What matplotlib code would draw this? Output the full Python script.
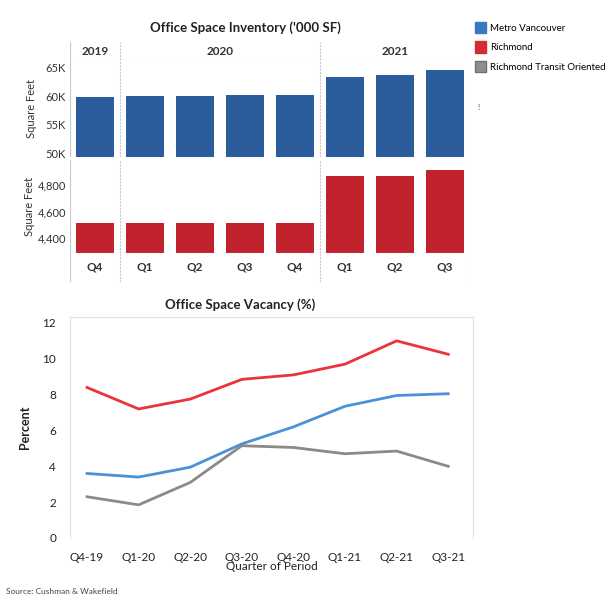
import numpy as np
import matplotlib.pyplot as plt
from matplotlib.patches import Patch

plt.rcParams['font.family'] = ['Lato', 'DejaVu Sans']

# Data
quarters = ["Q4", "Q1", "Q2", "Q3", "Q4", "Q1", "Q2", "Q3"]
years = ["2019", "2020", "2021"]
year_span = [(0, 0), (1, 4), (5, 7)]
metro_inventory = [59.8, 60.0, 60.1, 60.3, 60.3, 63.4, 63.7, 64.6]  # '000 SF, in K
richmond_inventory = [4510, 4510, 4510, 4510, 4510, 4870, 4870, 4915]

period_labels = ["Q4-19", "Q1-20", "Q2-20", "Q3-20", "Q4-20", "Q1-21", "Q2-21", "Q3-21"]
vac_metro = [3.6, 3.4, 3.95, 5.25, 6.2, 7.35, 7.95, 8.05]
vac_richmond = [8.4, 7.2, 7.75, 8.85, 9.1, 9.7, 11.0, 10.25]
vac_transit = [2.3, 1.85, 3.1, 5.15, 5.05, 4.7, 4.85, 4.0]

bar_blue = "#2b5d9c"
bar_red = "#c1232d"
line_blue = "#4a92d8"
line_red = "#e8343a"
line_gray = "#8a8a8a"
grid_col = "#c8c8c8"

W, H = 608, 603
fig = plt.figure(figsize=(W / 100, H / 100), dpi=100)


def px_axes(x0, y0, x1, y1):
    return fig.add_axes([x0 / W, 1 - y1 / H, (x1 - x0) / W, (y1 - y0) / H])


x = np.arange(len(quarters))
seps = [0.5, 4.5]

ax_head = px_axes(70, 42, 470, 60)
ax_top = px_axes(70, 60, 470, 157)
ax_bot = px_axes(70, 160, 470, 253)
ax_tick = px_axes(70, 253, 470, 282)

for a in (ax_head, ax_top, ax_bot, ax_tick):
    a.set_xlim(-0.5, 7.5)
    for s in a.spines.values():
        s.set_visible(False)
    a.tick_params(length=0)
    a.set_xticks([])
    for sx in seps:
        a.axvline(sx, color=grid_col, lw=0.8, ls=(0, (2, 1)))
    a.axvline(7.5, color=grid_col, lw=0.8, ls=(0, (2, 1)))
    a.axvline(-0.5, color=grid_col, lw=0.8)

ax_head.set_ylim(0, 1)
ax_head.set_yticks([])
for yr, (a0, a1) in zip(years, year_span):
    ax_head.text((a0 + a1) / 2, 0.45, yr, ha="center", va="center", fontsize=8.5, fontweight="bold", color="#333333")
ax_head.axhline(0, color=grid_col, lw=0.8, ls=(0, (2, 1)))

ax_top.bar(x, np.array(metro_inventory), width=0.75, color=bar_blue, bottom=0)
ax_top.set_ylim(49.3, 66.4)
ax_top.set_yticks([50, 55, 60, 65], ["50K", "55K", "60K", "65K"])
ax_top.set_ylabel("Square Feet", fontsize=8, color="#333333", labelpad=6)

ax_bot.bar(x, richmond_inventory, width=0.75, color=bar_red)
ax_bot.set_ylim(4285, 4990)
ax_bot.set_yticks([4400, 4600, 4800], ["4,400", "4,600", "4,800"])
ax_bot.set_ylabel("Square Feet", fontsize=8, color="#333333", labelpad=2)
ax_bot.axhline(4285, color=grid_col, lw=0.8)

for a in (ax_top, ax_bot):
    a.tick_params(axis="y", labelsize=8, labelcolor="#333333", pad=3)

ax_tick.set_ylim(0, 1)
ax_tick.set_yticks([])
for xi, q in zip(x, quarters):
    ax_tick.text(xi, 0.5, q, ha="center", va="center", fontsize=8.5, fontweight="bold", color="#333333")

fig.text(245 / W, 1 - 28 / H, "Office Space Inventory ('000 SF)", ha="center", va="center",
         fontsize=9.5, fontweight="bold", color="#222222")

handles = [Patch(facecolor="#3a78c4", edgecolor="#3a78c4"),
           Patch(facecolor="#d42a33", edgecolor="#d42a33"),
           Patch(facecolor="#8f8f8f", edgecolor="#6f6f6f")]
fig.legend(handles, ["Metro Vancouver", "Richmond", "Richmond Transit Oriented"],
           loc="upper left", bbox_to_anchor=(475 / W, 1 - 22 / H), frameon=False,
           fontsize=7, handlelength=1.15, handleheight=1.4, labelspacing=0.85,
           handletextpad=0.4, borderaxespad=0, borderpad=0)
fig.text(478 / W, 1 - 107 / H, "!", ha="center", va="center", fontsize=6, color="#444444")

# Line chart
ax = px_axes(70, 317, 473, 538)
xl = np.arange(len(period_labels))
ax.plot(xl, vac_richmond, color=line_red, lw=2)
ax.plot(xl, vac_metro, color=line_blue, lw=2)
ax.plot(xl, vac_transit, color=line_gray, lw=2)
ax.set_xlim(-0.33, 7.48)
ax.set_ylim(0, 12.33)
ax.set_yticks([0, 2, 4, 6, 8, 10, 12])
ax.set_xticks(xl, period_labels)
ax.tick_params(length=0, labelsize=8.5, labelcolor="#222222")
ax.tick_params(axis="y", pad=10)
ax.tick_params(axis="x", pad=10)
ax.spines["bottom"].set_visible(False)
for s in ["left", "right", "top"]:
    ax.spines[s].set_color("#e2e2e2")
    ax.spines[s].set_linewidth(0.8)
ax.set_ylabel("Percent", fontsize=9, fontweight="bold", color="#222222", labelpad=8)
ax.set_xlabel("Quarter of Period", fontsize=8.5, color="#222222", labelpad=-1)
fig.text(240 / W, 1 - 305 / H, "Office Space Vacancy (%)", ha="center", va="center",
         fontsize=9.5, fontweight="bold", color="#222222")

fig.text(6 / W, 1 - 592 / H, "Source: Cushman & Wakefield", ha="left", va="center",
         fontsize=6, color="#444444")

fig.savefig("out.png", dpi=100)
